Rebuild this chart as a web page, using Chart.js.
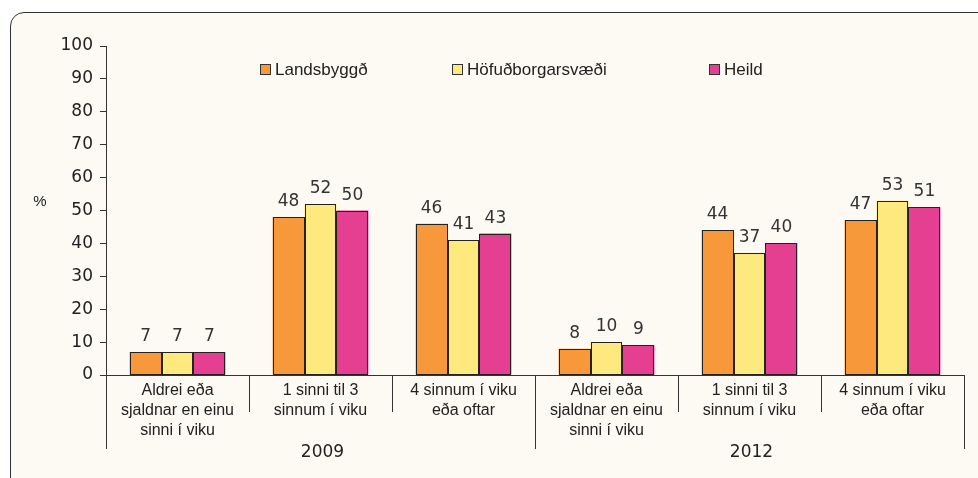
<!DOCTYPE html>
<html>
<head>
<meta charset="utf-8">
<script src="https://cdn.jsdelivr.net/npm/chart.js@4.4.1/dist/chart.umd.min.js"></script>
<style>
  html, body { margin: 0; padding: 0; background: #fff; }
  #wrap { position: relative; width: 978px; height: 478px; overflow: hidden; }
  #panel {
    position: absolute; left: 10px; top: 12px; width: 1000px; height: 500px;
    border: 1px solid #333; border-top-left-radius: 14px; background: #fdf9f3;
  }
  #c { position: absolute; left: 0; top: 0; }
</style>
</head>
<body>
<div id="wrap">
  <div id="panel"></div>
  <canvas id="c" width="978" height="478"></canvas>
</div>
<script>
var categories = [
  ["Aldrei eða", "sjaldnar en einu", "sinni í viku"],
  ["1 sinni til 3", "sinnum í viku"],
  ["4 sinnum í viku", "eða oftar"],
  ["Aldrei eða", "sjaldnar en einu", "sinni í viku"],
  ["1 sinni til 3", "sinnum í viku"],
  ["4 sinnum í viku", "eða oftar"]
];
var years = ["2009", "2012"];
var seriesNames = ["Landsbyggð", "Höfuðborgarsvæði", "Heild"];
var landsbyggd = [7, 48, 46, 8, 44, 47];
var hofudborg = [7, 52, 41, 10, 37, 53];
var heild = [7, 50, 43, 9, 40, 51];
var yTicks = [0, 10, 20, 30, 40, 50, 60, 70, 80, 90, 100];

var colors = ["#f7993a", "#fee97f", "#e43f91"];
var FONT = "'Liberation Sans', Arial, sans-serif";
var NUMFONT = "'DejaVu Sans', sans-serif";

// útlínur og tölur ofan á súlum, ártöl, skilalínur og skýringar
var extras = {
  id: 'extras',
  afterDatasetsDraw: function(chart) {
    var ctx = chart.ctx;
    ctx.save();
    ctx.strokeStyle = "#222";
    ctx.lineWidth = 1;
    chart.data.datasets.forEach(function(ds, i) {
      chart.getDatasetMeta(i).data.forEach(function(bar) {
        var l = Math.round(bar.x - bar.width / 2) + 0.5;
        var r = Math.round(bar.x + bar.width / 2) - 0.5;
        var t = Math.round(bar.y) + 0.5;
        var b = Math.round(bar.base) - 0.5;
        ctx.strokeRect(l, t, r - l, b - t);
      });
    });
    ctx.fillStyle = "#333";
    ctx.font = "17px " + NUMFONT;
    ctx.textAlign = "center";
    ctx.textBaseline = "alphabetic";
    chart.data.datasets.forEach(function(ds, i) {
      chart.getDatasetMeta(i).data.forEach(function(bar, j) {
        ctx.fillText(ds.data[j], bar.x, bar.y - 11);
      });
    });
    ctx.restore();
  },
  afterDraw: function(chart) {
    var ctx = chart.ctx;
    var area = chart.chartArea;
    var w = (area.right - area.left) / categories.length;
    ctx.save();
    ctx.strokeStyle = "#333";
    ctx.lineWidth = 1;
    for (var i = 0; i <= categories.length; i++) {
      var px = Math.round(area.left + i * w) + 0.5;
      var len = (i % 3 === 0) ? 74 : 37;
      ctx.beginPath();
      ctx.moveTo(px, area.bottom);
      ctx.lineTo(px, area.bottom + len);
      ctx.stroke();
    }
    ctx.fillStyle = "#222";
    ctx.font = "17px " + NUMFONT;
    ctx.textAlign = "center";
    ctx.textBaseline = "middle";
    years.forEach(function(y, k) {
      ctx.fillText(y, area.left + (k * 3 + 1.5) * w + 2, area.bottom + 78);
    });
    // %
    ctx.font = "15px " + FONT;
    ctx.fillText("%", 40, 202);
    // skýringar
    var lx = [260, 452, 709];
    ctx.textAlign = "left";
    ctx.font = "17px " + FONT;
    seriesNames.forEach(function(name, k) {
      ctx.fillStyle = colors[k];
      ctx.fillRect(lx[k], 64, 11, 11);
      ctx.strokeStyle = "#333";
      ctx.strokeRect(lx[k] + 0.5, 64.5, 10, 10);
      ctx.fillStyle = "#222";
      ctx.fillText(name, lx[k] + 15, 70);
    });
    ctx.restore();
  }
};

new Chart(document.getElementById("c"), {
  type: 'bar',
  data: {
    labels: categories,
    datasets: [
      { label: seriesNames[0], data: landsbyggd, backgroundColor: colors[0] },
      { label: seriesNames[1], data: hofudborg, backgroundColor: colors[1] },
      { label: seriesNames[2], data: heild, backgroundColor: colors[2] }
    ].map(function(d) {
      d.borderWidth = 0;
      d.categoryPercentage = 0.67;
      d.barPercentage = 1.0;
      return d;
    })
  },
  options: {
    responsive: false,
    animation: false,
    layout: { padding: { top: 46, right: 14, left: 0, bottom: 0 } },
    plugins: { legend: { display: false }, tooltip: { enabled: false } },
    scales: {
      x: {
        grid: { display: false, drawTicks: false },
        border: { display: true, color: "#333", width: 1 },
        ticks: {
          color: "#222", padding: 5, maxRotation: 0, autoSkip: false,
          font: { family: FONT, size: 16, lineHeight: 1.27 }
        },
        afterFit: function(s) { s.height = 103; }
      },
      y: {
        min: 0, max: 100,
        afterBuildTicks: function(s) { s.ticks = yTicks.map(function(v) { return { value: v }; }); },
        grid: { display: true, drawOnChartArea: false, drawTicks: true, tickLength: 6, color: "#333" },
        border: { display: true, color: "#333", width: 1 },
        ticks: { color: "#222", padding: 7, font: { family: NUMFONT, size: 17 } },
        afterFit: function(s) { s.width = 106; }
      }
    }
  },
  plugins: [extras]
});
</script>
</body>
</html>
